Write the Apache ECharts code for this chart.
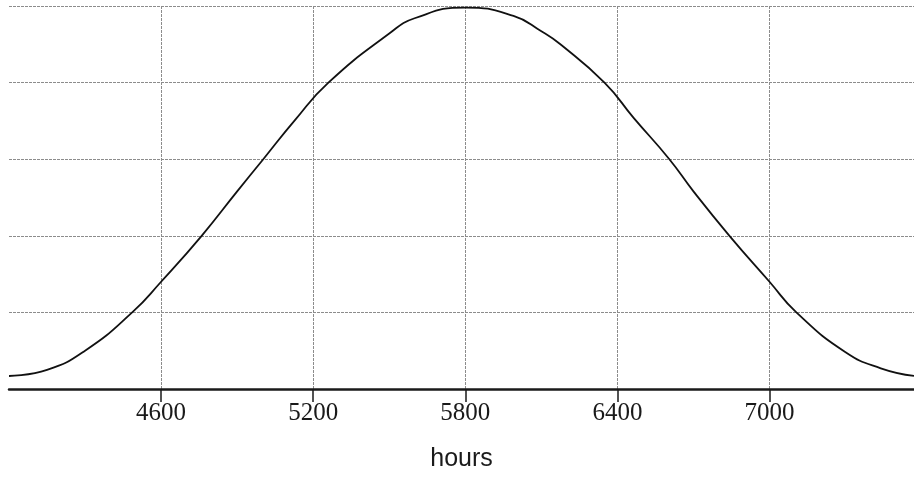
<!DOCTYPE html>
<html>
<head>
<meta charset="utf-8">
<script src="https://cdn.jsdelivr.net/npm/echarts@6/dist/echarts.min.js"></script>
<style>
html,body{margin:0;padding:0;background:#fff;}
#chart{width:914px;height:489px;}
</style>
</head>
<body>
<div id="chart"></div>
<script>
// Values
const hours  = [4000, 4150, 4300, 4486, 4600, 4760, 4900, 5003, 5128, 5260, 5500, 5600, 5800, 5990, 6100, 6175, 6349, 6464, 6605, 6700, 6842, 7000, 7106, 7300, 7439, 7570];
const values = [0.17, 0.25, 0.50, 1.00, 1.40, 2.00, 2.58, 3.00, 3.51, 4.00, 4.64, 4.84, 4.98, 4.87, 4.67, 4.50, 4.00, 3.54, 3.00, 2.58, 2.00, 1.40, 1.00, 0.48, 0.27, 0.17];
const tickLabels = [4600, 5200, 5800, 6400, 7000];
const xTitle = 'hours';

const data = hours.map((h, i) => [h, values[i]]);
const chart = echarts.init(document.getElementById('chart'), null, {renderer: 'canvas'});
const gridStyle = {color: '#8c8c8c', width: 1, type: [3, 1]};
chart.setOption({
  animation: false,
  backgroundColor: '#ffffff',
  grid: {left: 9, right: 0, top: 6, bottom: 100, containLabel: false},
  xAxis: {
    type: 'value',
    min: 4000, max: 7570, interval: 300,
    name: xTitle,
    nameLocation: 'middle',
    nameGap: 58,
    nameTextStyle: {fontFamily: 'Liberation Sans', fontSize: 25, color: '#1a1a1a'},
    axisLine: {show: true, onZero: false, lineStyle: {color: '#1a1a1a', width: 2.5}},
    axisTick: {show: true, customValues: tickLabels, length: 13, inside: false, lineStyle: {color: '#1a1a1a', width: 1.5}},
    axisLabel: {show: true, customValues: tickLabels, margin: 12, fontFamily: 'Liberation Serif', fontSize: 25, color: '#1a1a1a',
      formatter: v => String(v)},
    splitLine: {show: true, lineStyle: gridStyle}
  },
  yAxis: {
    type: 'value',
    min: 0, max: 5, interval: 1,
    axisLine: {show: false},
    axisTick: {show: false},
    axisLabel: {show: false},
    splitLine: {show: true, lineStyle: gridStyle}
  },
  series: [{
    type: 'line',
    data: data,
    smooth: 0.5,
    showSymbol: false,
    clip: false,
    lineStyle: {color: '#111', width: 1.8}
  }]
});
</script>
</body>
</html>
